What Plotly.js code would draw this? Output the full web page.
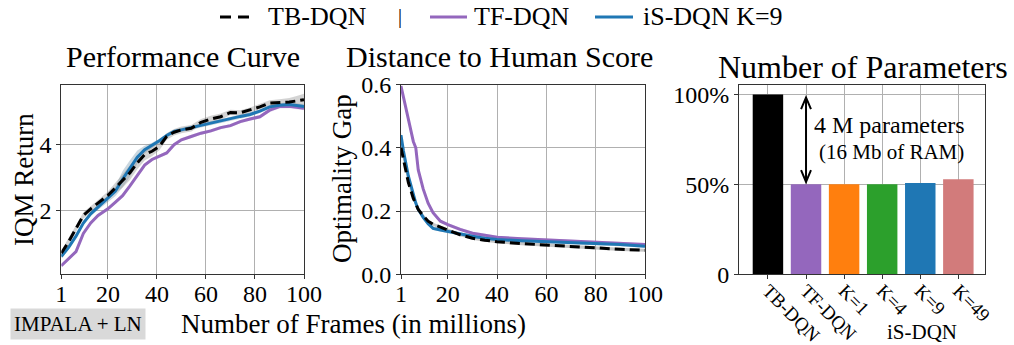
<!DOCTYPE html>
<html>
<head>
<meta charset="utf-8">
<script src="https://cdn.plot.ly/plotly-3.0.1.min.js"></script>
<style>
  html, body { margin: 0; padding: 0; background: #fff; }
  #chart { width: 1014px; height: 345px; }
</style>
</head>
<body>
<div id="chart"></div>
<script>
// ---- Performance curve (IQM return vs. frames) ----
const framesPerf = [1, 4, 7, 10, 13, 16, 20, 23, 26, 29, 32, 35, 38, 41, 44, 47, 50, 54, 58, 62, 66, 70, 74, 78, 82, 86, 90, 94, 97, 100];
const iqmTB = [0.70, 1.05, 1.45, 1.85, 2.05, 2.22, 2.46, 2.68, 2.90, 3.15, 3.45, 3.70, 3.80, 3.95, 4.25, 4.38, 4.45, 4.50, 4.68, 4.78, 4.85, 4.98, 4.97, 5.05, 5.15, 5.27, 5.28, 5.30, 5.33, 5.37];
const iqmTF = [0.32, 0.55, 0.75, 1.30, 1.62, 1.85, 2.05, 2.25, 2.45, 2.75, 3.05, 3.38, 3.55, 3.65, 3.75, 4.00, 4.15, 4.25, 4.35, 4.42, 4.52, 4.58, 4.70, 4.78, 4.85, 5.05, 5.16, 5.17, 5.14, 5.11];
const iqmIS = [0.60, 0.88, 1.22, 1.62, 1.90, 2.10, 2.36, 2.58, 2.95, 3.28, 3.62, 3.85, 3.98, 4.12, 4.28, 4.40, 4.45, 4.52, 4.60, 4.65, 4.72, 4.80, 4.86, 4.92, 5.02, 5.15, 5.20, 5.22, 5.20, 5.16];
// half-widths of the confidence bands
const iqmTBSpread = [0.08, 0.10, 0.10, 0.10, 0.10, 0.10, 0.12, 0.15, 0.20, 0.22, 0.20, 0.18, 0.15, 0.12, 0.10, 0.10, 0.10, 0.10, 0.10, 0.10, 0.10, 0.08, 0.08, 0.08, 0.08, 0.08, 0.10, 0.12, 0.15, 0.18];
const iqmTFSpread = [0.05, 0.05, 0.05, 0.05, 0.05, 0.05, 0.05, 0.05, 0.05, 0.05, 0.05, 0.05, 0.05, 0.05, 0.05, 0.05, 0.05, 0.05, 0.05, 0.05, 0.05, 0.05, 0.05, 0.05, 0.05, 0.06, 0.06, 0.06, 0.06, 0.06];
const iqmISSpread = [0.05, 0.06, 0.06, 0.06, 0.06, 0.08, 0.10, 0.15, 0.25, 0.25, 0.20, 0.12, 0.08, 0.06, 0.06, 0.06, 0.06, 0.06, 0.06, 0.06, 0.06, 0.06, 0.06, 0.06, 0.06, 0.06, 0.06, 0.06, 0.06, 0.06];

// ---- Optimality gap vs. frames ----
const framesGap = [1, 2, 4, 6, 7, 8, 10, 12, 14, 17, 20, 25, 30, 35, 40, 50, 60, 70, 80, 90, 100];
const gapTB = [0.400, 0.360, 0.290, 0.240, 0.220, 0.205, 0.185, 0.168, 0.158, 0.148, 0.140, 0.125, 0.114, 0.108, 0.103, 0.097, 0.092, 0.088, 0.083, 0.079, 0.076];
const gapTF = [0.595, 0.560, 0.490, 0.420, 0.400, 0.330, 0.270, 0.225, 0.195, 0.168, 0.157, 0.142, 0.130, 0.123, 0.117, 0.112, 0.108, 0.104, 0.101, 0.098, 0.094];
const gapIS = [0.440, 0.390, 0.310, 0.250, 0.225, 0.205, 0.180, 0.160, 0.145, 0.140, 0.135, 0.127, 0.120, 0.114, 0.110, 0.106, 0.103, 0.101, 0.098, 0.094, 0.089];
const gapSpread = [0.008, 0.008, 0.008, 0.007, 0.007, 0.006, 0.006, 0.005, 0.005, 0.005, 0.005, 0.005, 0.005, 0.005, 0.005, 0.005, 0.005, 0.005, 0.005, 0.005, 0.005];

// ---- Number of parameters (relative to TB-DQN) ----
const paramLabels = ['TB-DQN', 'TF-DQN', 'K=1', 'K=4', 'K=9', 'K=49'];
const paramPct = [100, 50, 50, 50, 50.7, 52.9];
const paramColors = ['#000000', '#9467bd', '#ff7f0e', '#2ca02c', '#1f77b4', '#d27b7b'];

const FONT = '"Liberation Serif", "Times New Roman", serif';
const C_TB = '#000000', C_TF = '#9467bd', C_IS = '#1f77b4';
const W = 1014, H = 345;
const px = v => v / W;
const py = v => 1 - v / H;

function band(x, y, hw, fill, xa, ya) {
  const up = y.map((v, i) => v + hw[i]);
  const lo = y.map((v, i) => v - hw[i]);
  return [
    {x: x, y: up, xaxis: xa, yaxis: ya, mode: 'lines', line: {width: 0}, hoverinfo: 'skip', showlegend: false},
    {x: x, y: lo, xaxis: xa, yaxis: ya, mode: 'lines', line: {width: 0}, fill: 'tonexty', fillcolor: fill, hoverinfo: 'skip', showlegend: false}
  ];
}
function curve(x, y, color, dash, xa, ya) {
  return {x: x, y: y, xaxis: xa, yaxis: ya, mode: 'lines',
          line: {color: color, width: 3, dash: dash || 'solid'}, showlegend: false};
}

const traces = [].concat(
  band(framesPerf, iqmTF, iqmTFSpread, 'rgba(148,103,189,0.22)', 'x', 'y'),
  band(framesPerf, iqmIS, iqmISSpread, 'rgba(70,110,140,0.28)', 'x', 'y'),
  band(framesPerf, iqmTB, iqmTBSpread, 'rgba(128,128,128,0.35)', 'x', 'y'),
  [curve(framesPerf, iqmTF, C_TF, null, 'x', 'y'),
   curve(framesPerf, iqmIS, C_IS, null, 'x', 'y'),
   curve(framesPerf, iqmTB, C_TB, '10px,5px', 'x', 'y')],
  band(framesGap, gapTF, gapSpread, 'rgba(148,103,189,0.22)', 'x2', 'y2'),
  band(framesGap, gapIS, gapSpread, 'rgba(70,110,140,0.28)', 'x2', 'y2'),
  band(framesGap, gapTB, gapSpread, 'rgba(128,128,128,0.45)', 'x2', 'y2'),
  [curve(framesGap, gapTF, C_TF, null, 'x2', 'y2'),
   curve(framesGap, gapIS, C_IS, null, 'x2', 'y2'),
   curve(framesGap, gapTB, C_TB, '10px,5px', 'x2', 'y2')],
  [{type: 'bar', x: paramLabels.map((_, i) => i), y: paramPct, width: 0.8,
    marker: {color: paramColors, line: {width: 0}}, xaxis: 'x3', yaxis: 'y3', showlegend: false}]
);

const axisBase = {
  showline: true, mirror: true, linecolor: '#333', linewidth: 1,
  showgrid: true, gridcolor: '#b0b0b0', gridwidth: 1,
  ticks: 'outside', ticklen: 4, tickcolor: '#333', tickwidth: 1,
  tickfont: {family: FONT, size: 24, color: '#000'}, zeroline: false, fixedrange: true
};
const yDom = [py(274.3), py(84.5)];

// double-headed arrow between the TB-DQN and TF-DQN bar heights
const arrowX = 1;
const arrowTop = paramPct[0] - 1.7;
const arrowBot = paramPct[1] + 1.4;
const headH = 6.5, headW = 0.13;

const layout = {
  width: W, height: H,
  margin: {l: 0, r: 0, t: 0, b: 0},
  paper_bgcolor: '#fff', plot_bgcolor: '#fff',
  font: {family: FONT, color: '#000'},
  showlegend: false,
  xaxis: Object.assign({}, axisBase, {anchor: 'y', domain: [px(61.3), px(304)], range: [1, 100], tickvals: [1, 20, 40, 60, 80, 100], ticklabelstandoff: -6}),
  yaxis: Object.assign({}, axisBase, {anchor: 'x', domain: yDom, range: [0.06, 5.83], tickvals: [2, 4]}),
  xaxis2: Object.assign({}, axisBase, {anchor: 'y2', domain: [px(401), px(645)], range: [1, 100], tickvals: [1, 20, 40, 60, 80, 100], ticklabelstandoff: -6}),
  yaxis2: Object.assign({}, axisBase, {anchor: 'x2', domain: yDom, range: [0, 0.6], tickvals: [0, 0.2, 0.4, 0.6], tickformat: '.1f'}),
  xaxis3: Object.assign({}, axisBase, {anchor: 'y3', domain: [px(739), px(985)], range: [-0.76, 5.7],
          tickvals: paramLabels.map((_, i) => i), ticktext: paramLabels, tickangle: 45, ticklabelstandoff: -7,
          tickfont: {family: FONT, size: 19, color: '#000'}}),
  yaxis3: Object.assign({}, axisBase, {anchor: 'x3', domain: yDom, range: [0, 105.5], tickvals: [0, 50, 100], ticktext: ['0', '50%', '100%']}),
  shapes: [
    // legend samples
    {type: 'line', xref: 'paper', yref: 'paper', x0: px(220), x1: px(250), y0: py(17), y1: py(17), line: {color: C_TB, width: 3, dash: '11px,7px'}},
    {type: 'line', xref: 'paper', yref: 'paper', x0: px(430), x1: px(467), y0: py(17), y1: py(17), line: {color: C_TF, width: 3}},
    {type: 'line', xref: 'paper', yref: 'paper', x0: px(595), x1: px(633), y0: py(17), y1: py(17), line: {color: C_IS, width: 3}},
    // arrow shaft and heads
    {type: 'line', xref: 'x3', yref: 'y3', x0: arrowX, x1: arrowX, y0: arrowBot, y1: arrowTop, line: {color: '#000', width: 2}},
    {type: 'path', xref: 'x3', yref: 'y3', path: `M ${arrowX - headW},${arrowTop - headH} L ${arrowX},${arrowTop} L ${arrowX + headW},${arrowTop - headH}`, line: {color: '#000', width: 2}},
    {type: 'path', xref: 'x3', yref: 'y3', path: `M ${arrowX - headW},${arrowBot + headH} L ${arrowX},${arrowBot} L ${arrowX + headW},${arrowBot + headH}`, line: {color: '#000', width: 2}}
  ],
  annotations: [
    // legend labels
    {xref: 'paper', yref: 'paper', x: px(266), y: py(17), xanchor: 'left', yanchor: 'middle', text: 'TB-DQN', showarrow: false, font: {size: 26}},
    {xref: 'paper', yref: 'paper', x: px(400), y: py(17), xanchor: 'center', yanchor: 'middle', text: '|', showarrow: false, font: {size: 20, color: '#000'}},
    {xref: 'paper', yref: 'paper', x: px(472), y: py(17), xanchor: 'left', yanchor: 'middle', text: 'TF-DQN', showarrow: false, font: {size: 26}},
    {xref: 'paper', yref: 'paper', x: px(641), y: py(17), xanchor: 'left', yanchor: 'middle', text: 'iS-DQN K=9', showarrow: false, font: {size: 26}},
    // panel titles
    {xref: 'paper', yref: 'paper', x: px(183), y: py(57), xanchor: 'center', yanchor: 'middle', text: 'Performance Curve', showarrow: false, font: {size: 30}},
    {xref: 'paper', yref: 'paper', x: px(499), y: py(57), xanchor: 'center', yanchor: 'middle', text: 'Distance to Human Score', showarrow: false, font: {size: 30}},
    {xref: 'paper', yref: 'paper', x: px(863), y: py(67), xanchor: 'center', yanchor: 'middle', text: 'Number of Parameters', showarrow: false, font: {size: 32}},
    // axis titles
    {xref: 'paper', yref: 'paper', x: px(24), y: py(180), xanchor: 'center', yanchor: 'middle', textangle: -90, text: 'IQM Return', showarrow: false, font: {size: 27}},
    {xref: 'paper', yref: 'paper', x: px(342), y: py(179), xanchor: 'center', yanchor: 'middle', textangle: -90, text: 'Optimality Gap', showarrow: false, font: {size: 27}},
    {xref: 'paper', yref: 'paper', x: px(353), y: py(324), xanchor: 'center', yanchor: 'middle', text: 'Number of Frames (in millions)', showarrow: false, font: {size: 27}},
    // bar annotations
    {xref: 'x3', yref: 'y3', x: 3.2, y: 83, xanchor: 'center', yanchor: 'middle', text: '4 M parameters', showarrow: false, font: {size: 24}},
    {xref: 'x3', yref: 'y3', x: 3.24, y: 68, xanchor: 'center', yanchor: 'middle', text: '(16 Mb of RAM)', showarrow: false, font: {size: 21}},
    {xref: 'paper', yref: 'paper', x: px(922), y: py(332), xanchor: 'center', yanchor: 'middle', text: 'iS-DQN', showarrow: false, font: {size: 21}},
    // network tag
    {xref: 'paper', yref: 'paper', x: px(78), y: py(324), xanchor: 'center', yanchor: 'middle', text: 'IMPALA + LN', showarrow: false,
     font: {size: 21}, bgcolor: '#d9d9d9', borderpad: 3}
  ]
};

Plotly.newPlot('chart', traces, layout, {staticPlot: true, displayModeBar: false});
</script>
</body>
</html>
